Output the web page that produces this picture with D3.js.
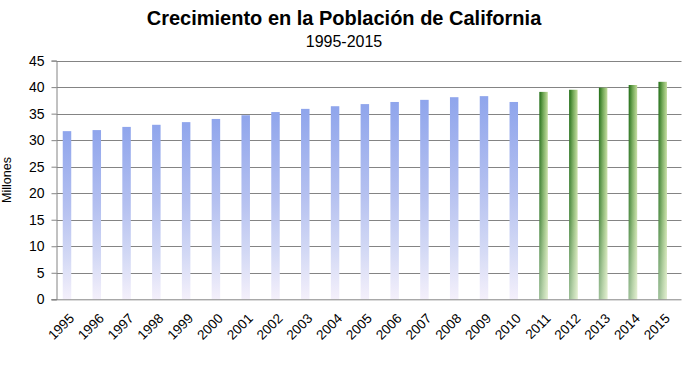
<!DOCTYPE html>
<html>
<head>
<meta charset="utf-8">
<script src="https://cdn.jsdelivr.net/npm/d3@7/dist/d3.min.js"></script>
<style>
  html, body { margin: 0; padding: 0; background: #fff; }
  svg { display: block; font-family: "Liberation Sans", Arial, sans-serif; }
</style>
</head>
<body>
<svg id="chart" width="686" height="367"></svg>
<script>
// ---- data ----
const years = ["1995","1996","1997","1998","1999","2000","2001","2002","2003","2004","2005",
               "2006","2007","2008","2009","2010","2011","2012","2013","2014","2015"];
const population = [31.7, 31.9, 32.5, 32.9, 33.4, 34.0, 34.7, 35.3, 35.9, 36.4, 36.8,
                     37.2, 37.6, 38.1, 38.3, 37.2, 39.1, 39.5, 39.9, 40.4, 41.0];
const projectedYears = ["2011","2012","2013","2014","2015"];
const yTicks = [0, 5, 10, 15, 20, 25, 30, 35, 40, 45];
const titleText = "Crecimiento en la Población de California";
const subtitleText = "1995-2015";
const yLabel = "Millones";

const data = years.map((y, i) => ({ year: y, value: population[i], projected: projectedYears.includes(y) }));

const svg = d3.select("#chart");
const defs = svg.append("defs");

// gradients
const gBlue = defs.append("linearGradient").attr("id", "gBlue")
  .attr("x1", 0).attr("y1", 0).attr("x2", 0).attr("y2", 1);
gBlue.append("stop").attr("offset", "0%").attr("stop-color", "#8fa5ec");
gBlue.append("stop").attr("offset", "45%").attr("stop-color", "#b4c0f0");
gBlue.append("stop").attr("offset", "75%").attr("stop-color", "#d3d9f5");
gBlue.append("stop").attr("offset", "100%").attr("stop-color", "#f4f0fb");

const gGreen = defs.append("linearGradient").attr("id", "gGreen")
  .attr("x1", 0).attr("y1", 0).attr("x2", 1).attr("y2", 0);
gGreen.append("stop").attr("offset", "0%").attr("stop-color", "#1f6c14");
gGreen.append("stop").attr("offset", "45%").attr("stop-color", "#6ea552");
gGreen.append("stop").attr("offset", "100%").attr("stop-color", "#c3dc9c");

const gFade = defs.append("linearGradient").attr("id", "gFade")
  .attr("x1", 0).attr("y1", 0).attr("x2", 0).attr("y2", 1);
gFade.append("stop").attr("offset", "0%").attr("stop-color", "#fff").attr("stop-opacity", 0);
gFade.append("stop").attr("offset", "60%").attr("stop-color", "#fff").attr("stop-opacity", 0.2);
gFade.append("stop").attr("offset", "100%").attr("stop-color", "#fff").attr("stop-opacity", 0.55);

// scales
const plotLeft = 56.5, plotRight = 681.5, plotTop = 60.6, plotBottom = 299.3;
const x = d3.scaleBand().domain(years).range([52.1, 677.6]).paddingInner(0.715).paddingOuter(0.3575);
const y = d3.scaleLinear().domain([0, 45]).range([plotBottom, plotTop]);

// gridlines
svg.append("g").selectAll("line").data(yTicks.filter(d => d > 0)).join("line")
  .attr("x1", plotLeft).attr("x2", plotRight)
  .attr("y1", d => Math.round(y(d)) + 0.5).attr("y2", d => Math.round(y(d)) + 0.5)
  .attr("stroke", "#848484").attr("stroke-width", 1);

// bars
const bars = svg.append("g");
bars.selectAll("rect.bar").data(data).join("rect").attr("class", "bar")
  .attr("x", d => x(d.year)).attr("width", x.bandwidth())
  .attr("y", d => y(d.value)).attr("height", d => y(0) - y(d.value))
  .attr("fill", d => d.projected ? "url(#gGreen)" : "url(#gBlue)");
bars.selectAll("rect.fade").data(data.filter(d => d.projected)).join("rect").attr("class", "fade")
  .attr("x", d => x(d.year)).attr("width", x.bandwidth())
  .attr("y", d => y(d.value)).attr("height", d => y(0) - y(d.value))
  .attr("fill", "url(#gFade)");

// y axis
const yAxis = d3.axisLeft(y).tickValues(yTicks).tickSize(5).tickPadding(7).tickFormat(d3.format("d"));
const gy = svg.append("g").attr("transform", `translate(${plotLeft},0)`).call(yAxis);
gy.select(".domain").attr("stroke", "#848484");
gy.selectAll(".tick line").attr("stroke", "#848484");
gy.selectAll(".tick text").attr("font-size", 14).attr("fill", "#000")
  .attr("font-family", "'Liberation Sans', Arial, sans-serif");

// x axis
const xAxis = d3.axisBottom(x).tickSize(0).tickPadding(0);
const gx = svg.append("g").attr("transform", `translate(0,${plotBottom})`).call(xAxis);
gx.select(".domain").remove();
gx.append("line").attr("x1", plotLeft - 5).attr("x2", plotRight).attr("y1", 0.5).attr("y2", 0.5)
  .attr("stroke", "#848484");
gx.selectAll(".tick text")
  .attr("font-size", 13.5).attr("fill", "#000")
  .attr("font-family", "'Liberation Sans', Arial, sans-serif")
  .attr("text-anchor", "end").attr("dy", null).attr("y", 0)
  .attr("transform", "translate(8,20) rotate(-45)");

// y label
svg.append("text").attr("transform", "translate(10.5,180) rotate(-90)")
  .attr("text-anchor", "middle").attr("font-size", 12.5).text(yLabel);

// titles
svg.append("text").attr("x", 344).attr("y", 25).attr("text-anchor", "middle")
  .attr("font-size", 20).attr("font-weight", "bold").text(titleText);
svg.append("text").attr("x", 344).attr("y", 47).attr("text-anchor", "middle")
  .attr("font-size", 16).text(subtitleText);
</script>
</body>
</html>
